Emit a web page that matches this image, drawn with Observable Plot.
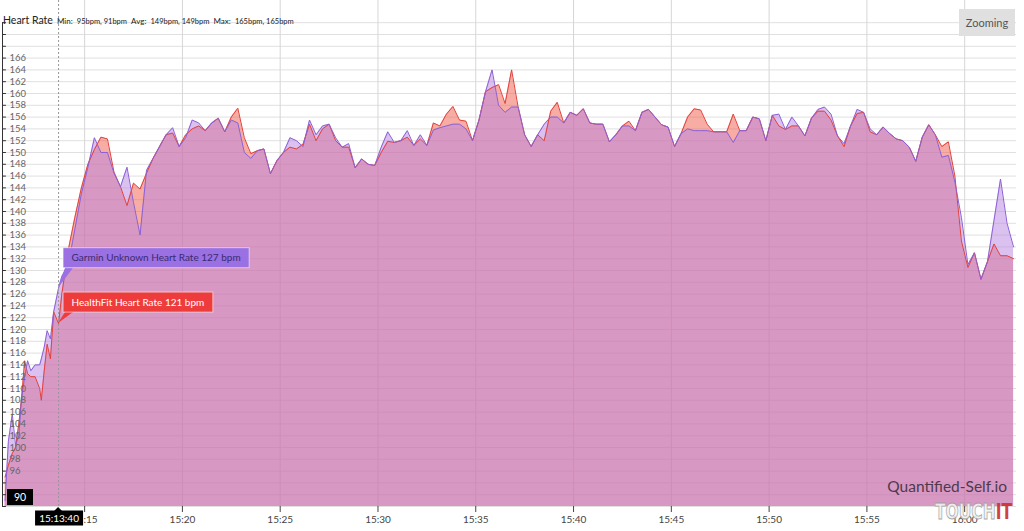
<!DOCTYPE html>
<html><head><meta charset="utf-8">
<script src="https://cdn.jsdelivr.net/npm/d3@7"></script>
<script src="https://cdn.jsdelivr.net/npm/@observablehq/plot@0.6"></script>
<style>
html,body{margin:0;padding:0;background:#fff;}
#wrap{position:relative;width:1024px;height:531px;overflow:hidden;font-family:Lato,"Open Sans",sans-serif;}
#wrap > svg{position:absolute;left:0;top:0;}
#title{position:absolute;left:3px;top:8px;white-space:nowrap;color:#222;}
#title .main{font-size:10.5px;}
#title .lab{font-size:8px;}
#title .val{font-size:7.5px;}
#zoombtn{position:absolute;left:959px;top:9px;width:56px;height:27px;background:#e0e0e0;color:#555;font-size:11px;line-height:27px;text-align:center;}
</style></head>
<body><div id="wrap"></div>
<script>
const seriesNames = ["Garmin Unknown Heart Rate", "HealthFit Heart Rate"];
const statMin = [95, 91], statAvg = [149, 149], statMax = [165, 165];

const times = [
"15:10:56","15:11:06","15:11:18","15:11:28","15:11:38","15:11:46","15:11:56","15:12:05","15:12:15","15:12:28","15:12:42","15:12:47","15:12:56","15:13:05","15:13:15","15:13:25","15:13:40",
"15:13:50",
"15:14:10","15:14:30","15:14:50","15:15:10","15:15:30","15:15:50","15:16:10","15:16:30","15:16:50",
"15:17:10","15:17:30","15:17:50","15:18:10","15:18:30","15:18:50","15:19:10","15:19:30","15:19:50",
"15:20:10","15:20:30","15:20:50","15:21:10","15:21:30","15:21:50","15:22:10","15:22:30","15:22:50",
"15:23:10","15:23:30","15:23:50","15:24:10","15:24:30","15:24:50","15:25:10","15:25:30","15:25:50",
"15:26:10","15:26:30","15:26:50","15:27:10","15:27:30","15:27:50","15:28:10","15:28:30","15:28:50",
"15:29:10","15:29:30","15:29:50","15:30:10","15:30:30","15:30:50","15:31:10","15:31:30","15:31:50",
"15:32:10","15:32:30","15:32:50","15:33:10","15:33:30","15:33:50","15:34:10","15:34:30","15:34:50",
"15:35:10","15:35:30","15:35:50","15:36:10","15:36:30","15:36:50","15:37:10","15:37:30","15:37:50",
"15:38:10","15:38:30","15:38:50","15:39:10","15:39:30","15:39:50","15:40:10","15:40:30","15:40:50",
"15:41:10","15:41:30","15:41:50","15:42:10","15:42:30","15:42:50","15:43:10","15:43:30","15:43:50",
"15:44:10","15:44:30","15:44:50","15:45:10","15:45:30","15:45:50","15:46:10","15:46:30","15:46:50",
"15:47:10","15:47:30","15:47:50","15:48:10","15:48:30","15:48:50","15:49:10","15:49:30","15:49:50",
"15:50:10","15:50:30","15:50:50","15:51:10","15:51:30","15:51:50","15:52:10","15:52:30","15:52:50",
"15:53:10","15:53:30","15:53:50","15:54:10","15:54:30","15:54:50","15:55:10","15:55:30","15:55:50",
"15:56:10","15:56:30","15:56:50","15:57:10","15:57:30","15:57:50","15:58:10","15:58:30","15:58:50",
"15:59:10","15:59:30","15:59:50","16:00:10","16:00:30","16:00:50","16:01:10","16:01:30","16:01:50",
"16:02:10","16:02:30"
];

const garmin = [
91,101,105.7,100.4,102,108,112,114.7,113,114,114,115,117,119.8,118.4,123,127,
129,
131,137,143, 147.5,152.5,150, 150,146.5,144.2,
147.5,141.5,136, 147,149,151, 153,154.2,151,
152.5,155.5,155, 153.7,155,155.8, 153.5,155.5,155,
150,149,150.3, 150.6,146.4,148.6, 150,152.5,152,
151,155.5,153, 154.5,154.8,152.5, 150.9,151.5,147.4,
148.9,148,147.8, 150.9,153.5,151.7, 152,153.7,151.2,
153,151.2,153.8, 154.2,154.5,154.8, 154.8,154,152,
155.5,160.3,164, 158,156.8,157.7, 157.7,153,151,
153,154.8,156, 156,155,156.8, 156.3,157.4,155,
154.8,154.8,151.8, 153,154.5,154.5, 153.7,156.8,157.3,
156,154.7,154.3, 151,153.2,154, 153.7,153.7,153.7,
153.5,153.5,153.5, 151.7,153.7,153.7, 156,155.7,152,
156.3,156.5,153.9, 156,154.5,152.8, 155.8,157.3,157.7,
156.5,152.8,151.5, 154.5,157.3,156.8, 154,153,154.3,
153.2,152.3,152, 150.9,148.5,152.6, 154.7,153,149.2,
149.5,145,139, 131,133,128.5, 131.5,138.5,145.5,
138,134
];

const healthfit = [
95,97,99,100,104,108,114.7,112.5,112,112,110,108,113,117.5,115,123,121,
126,
133.5,139,144, 148,150.5,152.6, 152.3,146.7,144.2,
141,144.8,143.8, 146.5,149,151, 153,153.3,151,
153,154,154.5, 153.7,155,155.8, 153.5,156,157.5,
152.5,149.8,150.3, 150.6,146.4,148.6, 150,150.9,150.6,
151.4,154.8,152, 154,154.8,152, 150.9,150.9,147.4,
148.9,148,147.8, 150,151.9,151.7, 152,152.6,151.2,
152.3,151.2,155, 154.5,156.5,157.8, 155.5,155.3,152,
155.5,160.3,161, 161.5,158.3,164, 157.7,153,151,
153,152,157, 158.5,155,156.8, 156.3,157.4,155,
154.8,154.8,151.8, 153,154.5,155.3, 153.7,156.8,157.3,
156,154.7,154.3, 151,153.2,156, 157.4,157.2,154.8,
153.5,153.5,153.5, 156.5,153.7,153.7, 156,155.7,152,
156.3,154.5,153.9, 154.5,154.5,152.8, 155.8,157,157,
155.5,152.8,151, 154.5,156.6,156.8, 153.5,153,154.3,
153.2,152.3,152, 150.9,148.5,152.6, 154.7,153,151,
151.8,146,135, 130.5,133,128.5, 131.5,134.5,132.5,
132.5,132
];

const xTickLabels = ["15:15","15:20","15:25","15:30","15:35","15:40","15:45","15:50","15:55","16:00"];
const yGridValues = [90,92,94,96,98,100,102,104,106,108,110,112,114,116,118,120,122,124,126,128,130,132,134,136,138,140,142,144,146,148,150,152,154,156,158,160,162,164,166,168,170,172];
const yTickLabels = [96,98,100,102,104,106,108,110,112,114,116,118,120,122,124,126,128,130,132,134,136,138,140,142,144,146,148,150,152,154,156,158,160,162,164,166];
const xDomain = ["15:10:48", "16:02:39"];
const yDomain = [90, 175.76];
const cursorTime = "15:13:40";
const cursorYLabel = "90";

const FONT = "Lato, 'Open Sans', sans-serif";
const toDate = s => new Date(`2020-01-01T${s.length === 5 ? s + ":00" : s}Z`);
const data = times.map((t, i) => ({t: toDate(t), g: garmin[i], h: healthfit[i]}));
const xTicks = xTickLabels.map(toDate);
const x0 = toDate(xDomain[0]);
const tickEnd = new Date(+x0 + 12000);
const yBase = yGridValues[0];
const yTop = yGridValues[yGridValues.length - 1];

const plot = Plot.plot({
  width: 1024, height: 531,
  marginLeft: 2, marginRight: 8, marginTop: 0, marginBottom: 25,
  style: {fontFamily: FONT, background: "transparent", overflow: "visible"},
  x: {type: "utc", domain: xDomain.map(toDate)},
  y: {domain: yDomain, axis: null},
  marks: [
    Plot.ruleY(yGridValues, {stroke: "#e0e0e0"}),
    Plot.ruleX(xTicks, {stroke: "#d6d6d6"}),
    Plot.areaY(data, {x: "t", y1: () => yBase, y2: "h", fill: "#f05a4a", fillOpacity: 0.5}),
    Plot.areaY(data, {x: "t", y1: () => yBase, y2: "g", fill: "#b884e2", fillOpacity: 0.5}),
    Plot.lineY(data, {x: "t", y: "h", stroke: "#e2413c", strokeWidth: 1}),
    Plot.lineY(data, {x: "t", y: "g", stroke: "#8b61d6", strokeWidth: 1}),
    Plot.ruleX([toDate(cursorTime)], {stroke: "#999", strokeDasharray: "2,2"}),
    Plot.ruleX([x0], {y1: () => yBase, y2: () => yTop, stroke: "#333"}),
    Plot.ruleY(yGridValues, {x1: () => x0, x2: () => tickEnd, stroke: "#333"}),
    Plot.text(yTickLabels, {y: d => d, text: d => String(d), frameAnchor: "left", dx: 7, textAnchor: "start", fontSize: 9.5, fill: "#666"}),
    Plot.axisX(xTicks, {tickFormat: d3.utcFormat("%H:%M"), tickSize: 6, tickPadding: 3, fontSize: 10, color: "#444", label: null})
  ]
});

const wrap = document.getElementById("wrap");
wrap.appendChild(plot);

const title = document.createElement("div");
title.id = "title";
title.innerHTML = `<span class="main">Heart Rate</span> <span class="lab">Min:</span> <span class="val">${statMin[0]}bpm, ${statMin[1]}bpm</span> <span class="lab">Avg:</span> <span class="val">${statAvg[0]}bpm, ${statAvg[1]}bpm</span> <span class="lab">Max:</span> <span class="val">${statMax[0]}bpm, ${statMax[1]}bpm</span>`;
wrap.appendChild(title);

const btn = document.createElement("div");
btn.id = "zoombtn";
btn.textContent = "Zooming";
wrap.appendChild(btn);

const xs = plot.scale("x"), ys = plot.scale("y");
const ov = d3.select(wrap).append("svg")
  .attr("width", 1024).attr("height", 531)
  .style("font-family", FONT).style("pointer-events", "none");

const ci = times.indexOf(cursorTime);
const cx = xs.apply(toDate(cursorTime));

function tooltip(val, name, color, textColor, gap) {
  const py = ys.apply(val);
  const g = ov.append("g");
  const text = g.append("text").attr("font-size", 10).attr("fill", textColor).text(`${name} ${val} bpm`);
  const w = text.node().getComputedTextLength() + 17;
  const bx = cx + 5, bh = 20, bb = py - gap;
  g.insert("path", "text").attr("d", `M${cx},${py}L${bx + 2},${bb}L${bx + 10},${bb}Z`).attr("fill", color);
  g.insert("rect", "text").attr("x", bx).attr("y", bb - bh).attr("width", w).attr("height", bh)
    .attr("fill", color).attr("stroke", "rgba(255,255,255,0.55)");
  text.attr("x", bx + 8.5).attr("y", bb - bh / 2 + 3.5);
}
tooltip(garmin[ci], seriesNames[0], "#9a70e2", "#3a2a6e", 20);
tooltip(healthfit[ci], seriesNames[1], "#ee3c3c", "#ffffff", 11);

// y cursor label
const yb = ys.apply(yBase);
ov.append("rect").attr("x", 7).attr("y", yb - 17).attr("width", 26).attr("height", 16).attr("fill", "#000");
ov.append("text").attr("x", 20).attr("y", yb - 5.5).attr("text-anchor", "middle").attr("font-size", 10.5).attr("fill", "#fff").text(cursorYLabel);

// x cursor label
ov.append("path").attr("d", `M${cx - 4},${yb + 5}L${cx},${yb + 1}L${cx + 4},${yb + 5}Z`).attr("fill", "#000");
ov.append("rect").attr("x", cx - 23).attr("y", yb + 4.5).attr("width", 48).attr("height", 15).attr("fill", "#000");
ov.append("text").attr("x", cx + 1).attr("y", yb + 15.5).attr("text-anchor", "middle").attr("font-size", 10).attr("fill", "#fff").text(cursorTime);

// watermarks
ov.append("text").attr("x", 1007).attr("y", 492).attr("text-anchor", "end").attr("font-size", 15.5)
  .attr("fill", "#4f3a4d").text("Quantified-Self.io");
const tw = ov.append("text").attr("x", 935).attr("y", 519).attr("font-size", 21).attr("font-weight", "bold")
  .attr("font-family", "'DejaVu Sans Condensed', sans-serif").attr("opacity", 0.9);
tw.append("tspan").attr("fill", "#f2f2f2").attr("stroke", "#a0a0a0").attr("stroke-width", 0.8).text("TOUCH");
tw.append("tspan").attr("fill", "#cc2f2f").text("IT");
tw.attr("textLength", 77).attr("lengthAdjust", "spacingAndGlyphs");
</script>
</body></html>
